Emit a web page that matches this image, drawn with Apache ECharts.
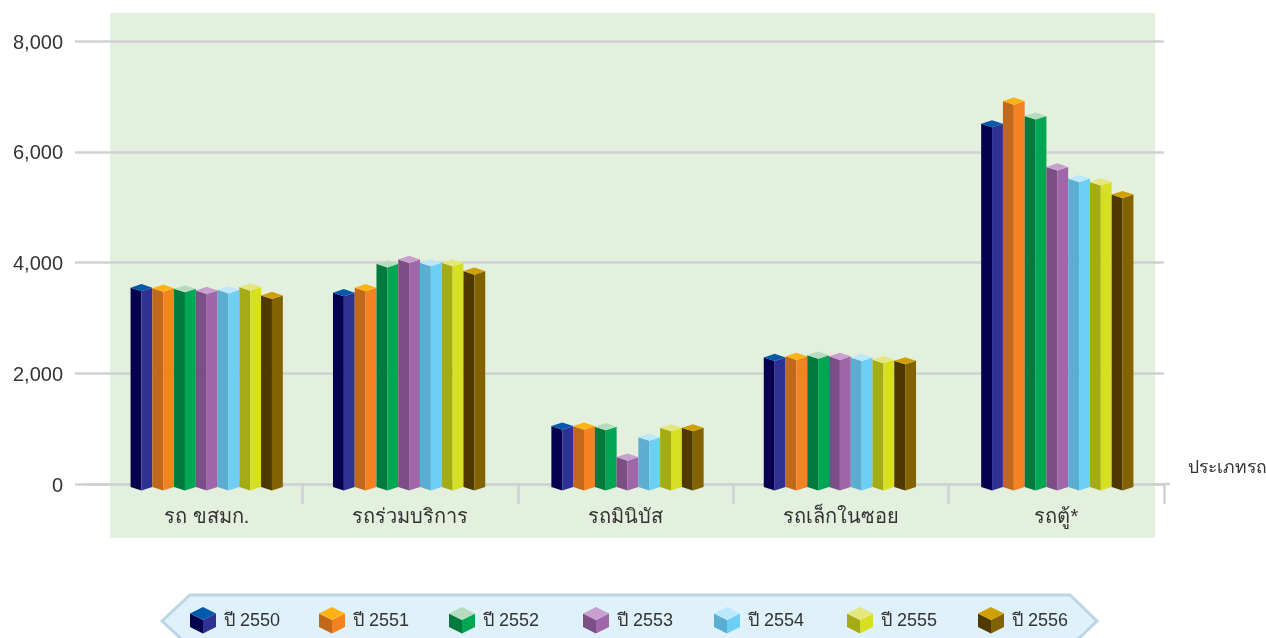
<!DOCTYPE html>
<html><head><meta charset="utf-8">
<style>html,body{margin:0;padding:0;background:#fff}#c{width:1266px;height:638px}</style>
<script src="https://cdn.jsdelivr.net/npm/echarts@6/dist/echarts.min.js"></script>
</head><body><div id="c"></div>
<script>
const categories = ['รถ ขสมก.', 'รถร่วมบริการ', 'รถมินิบัส', 'รถเล็กในซอย', 'รถตู้*'];
const years = ['ปี 2550', 'ปี 2551', 'ปี 2552', 'ปี 2553', 'ปี 2554', 'ปี 2555', 'ปี 2556'];
const v2550 = [3600, 3510, 1100, 2340, 6560];
const v2551 = [3590, 3600, 1100, 2360, 6970];
const v2552 = [3580, 4030, 1090, 2380, 6700];
const v2553 = [3550, 4110, 540, 2360, 5780];
const v2554 = [3560, 4050, 900, 2340, 5570];
const v2555 = [3610, 4050, 1070, 2300, 5510];
const v2556 = [3460, 3900, 1070, 2280, 5280];
const allValues = [v2550, v2551, v2552, v2553, v2554, v2555, v2556];
const leftColors = ['#07004f', '#c2681a', '#007a3d', '#7b4e85', '#5baed1', '#a5ab15', '#4f3900'];
const rightColors = ['#2e3192', '#f58220', '#00a651', '#a066aa', '#6dcff6', '#d7df23', '#836300'];
const topColors = ['#0059a9', '#fdb316', '#b5dcbe', '#c7a0cf', '#bde8fb', '#e3e77e', '#cfa008'];

const FONT = '"Liberation Sans", Arial, sans-serif';
const groupNudge = [12, -1, 2, -1, 1];
const barW = 21.75, halfDepth = 3.6, drop = 3;
const LINE = '#cfd2d3';

function cube(cx, topY, botY, w, d, i, z) {
  const l = cx - w / 2, r = cx + w / 2;
  const face = (pts, color) => ({ type: 'polygon', z: z || 0, shape: { points: pts }, style: { fill: color } });
  return [
    face([[l, topY], [cx, topY + d], [cx, botY + d], [l, botY]], leftColors[i]),
    face([[cx, topY + d], [r, topY], [r, botY], [cx, botY + d]], rightColors[i]),
    face([[l, topY], [cx, topY - d], [r, topY], [cx, topY + d]], topColors[i])
  ];
}

const series = years.map((name, si) => ({
  type: 'custom', name, data: allValues[si].map((v, ci) => [ci, v]),
  encode: { x: 0, y: 1 }, clip: false, z: 3 + si,
  renderItem(params, api) {
    const ci = api.value(0), v = api.value(1);
    const p = api.coord([ci, v]), b = api.coord([ci, 0]);
    const cx = p[0] + groupNudge[ci] + (si - 3) * barW;
    return { type: 'group', children: cube(cx, p[1] + drop, b[1] + drop, barW, halfDepth, si) };
  }
}));

const legendStep = [0, 129, 259, 393, 524, 657, 788];
const legendEls = [{
  type: 'polygon', z: 1,
  shape: { points: [[162, 621], [190, 595], [1070, 595], [1097, 621], [1070, 647], [190, 647]] },
  style: { fill: '#dff1fa', stroke: '#bcd6e3', lineWidth: 3 }
}];
years.forEach((name, i) => {
  const x = 203 + legendStep[i], y = 620;
  legendEls.push({ type: 'group', children: cube(x, y - 6.5, y + 7, 26, 6.5, i, 2) });
  legendEls.push({ type: 'text', z: 2, x: x + 21, y: y + 1, style: { text: name, font: '18px ' + FONT, fill: '#333', verticalAlign: 'middle' } });
});

const chart = echarts.init(document.getElementById('c'), null, { renderer: 'canvas' });
chart.setOption({
  animation: false,
  backgroundColor: '#fff',
  tooltip: { show: false },
  grid: { left: 87, right: 102, top: 41, bottom: 154, outerBoundsMode: 'none' },
  graphic: [
    { type: 'rect', silent: true, z: -10, shape: { x: 110, y: 13, width: 1045, height: 525 }, style: { fill: '#e4f0de' } },
    { type: 'line', silent: true, z: 0, shape: { x1: 1163, y1: 484, x2: 1170, y2: 484 }, style: { stroke: LINE, lineWidth: 2.5 } },
    ...legendEls
  ],
  xAxis: {
    type: 'category', data: categories,
    name: 'ประเภทรถ', nameLocation: 'end', nameGap: 24,
    nameTextStyle: { fontSize: 17.5, color: '#333', fontFamily: FONT, verticalAlign: 'bottom', padding: [0, 0, 7, 0] },
    axisLine: { lineStyle: { color: LINE, width: 2.5 } },
    axisTick: { show: true, length: 20, interval: i => i > 0, lineStyle: { color: LINE, width: 2.5 } },
    axisLabel: {
      color: '#333', margin: 23, interval: 0,
      fontSize: 20, fontFamily: FONT,
      formatter: (v, i) => i === 0 ? '{s|' + v + '}' : v,
      rich: { s: { fontSize: 20, color: '#333', fontFamily: FONT, padding: [0, 0, 0, 24] } }
    }
  },
  yAxis: {
    type: 'value', min: 0, max: 8000, interval: 2000,
    axisLine: { show: false },
    axisTick: { show: true, length: 12, lineStyle: { color: LINE, width: 2.5 } },
    splitLine: { lineStyle: { color: LINE, width: 2.5 } },
    axisLabel: {
      color: '#333', fontSize: 20, margin: 24, fontFamily: FONT,
      formatter: v => '{n|' + v.toLocaleString('en-US') + '}',
      rich: { n: { fontSize: 20, color: '#333', fontFamily: FONT, padding: [4, 0, 0, 0] } }
    }
  },
  series
});
</script></body></html>
